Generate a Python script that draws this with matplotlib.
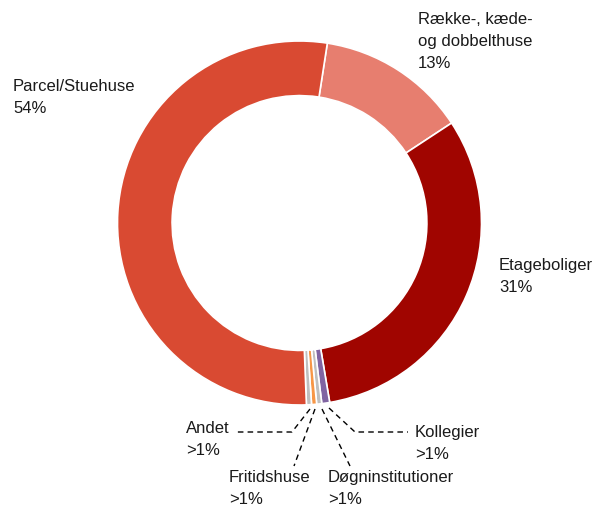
import matplotlib
matplotlib.use("Agg")
import matplotlib.pyplot as plt

plt.rcParams['font.family'] = ['Liberation Sans', 'DejaVu Sans']

categories = ["Række-, kæde-\nog dobbelthuse", "Etageboliger", "Kollegier",
              "Døgninstitutioner", "Fritidshuse", "Andet", "Parcel/Stuehuse"]
values = [13.3, 31.6, 0.7, 0.45, 0.45, 0.45, 53.05]
pct_labels = ["13%", "31%", ">1%", ">1%", ">1%", ">1%", "54%"]
colors = ["#E77E6F", "#A00500", "#8064A2", "#BFBFBF", "#F79646", "#BFBFBF", "#D94A32"]

W, H = 595, 510
fig = plt.figure(figsize=(W / 100, H / 100), dpi=100)
ax = fig.add_axes([0, 0, 1, 1])
ax.set_xlim(0, W)
ax.set_ylim(0, H)
ax.set_aspect('equal')
ax.axis('off')

cx, cy = 299.5, H - 224
R = 182
ax.pie(values, colors=colors, startangle=81.2, counterclock=False,
       center=(cx, cy), radius=R,
       wedgeprops=dict(width=R * 0.30, edgecolor='white', linewidth=1.2))
ax.set_xlim(0, W)
ax.set_ylim(0, H)

fs = 12
ls = 1.6
def lab(x, y, i):
    ax.text(x, H - y, categories[i] + "\n" + pct_labels[i], fontsize=fs,
            ha='left', va='top', linespacing=ls, color='#1a1a1a')

lab(13, 79, 6)
lab(418, 12, 0)
lab(499, 258, 1)
lab(186, 421, 5)
lab(229, 470, 4)
lab(328, 470, 3)
lab(415, 425, 2)

dash = dict(color='black', linewidth=1.0, linestyle=(0, (4, 3)))
def leader(pts):
    xs = [p[0] for p in pts]
    ys = [H - p[1] for p in pts]
    ax.plot(xs, ys, **dash)

leader([(310, 410), (292, 433), (237, 433)])   # Andet
leader([(315, 410), (294, 467)])               # Fritidshuse
leader([(322, 410), (350, 467)])               # Døgninstitutioner
leader([(329, 409), (355, 433), (408, 433)])   # Kollegier

fig.savefig("out.png", dpi=100)
